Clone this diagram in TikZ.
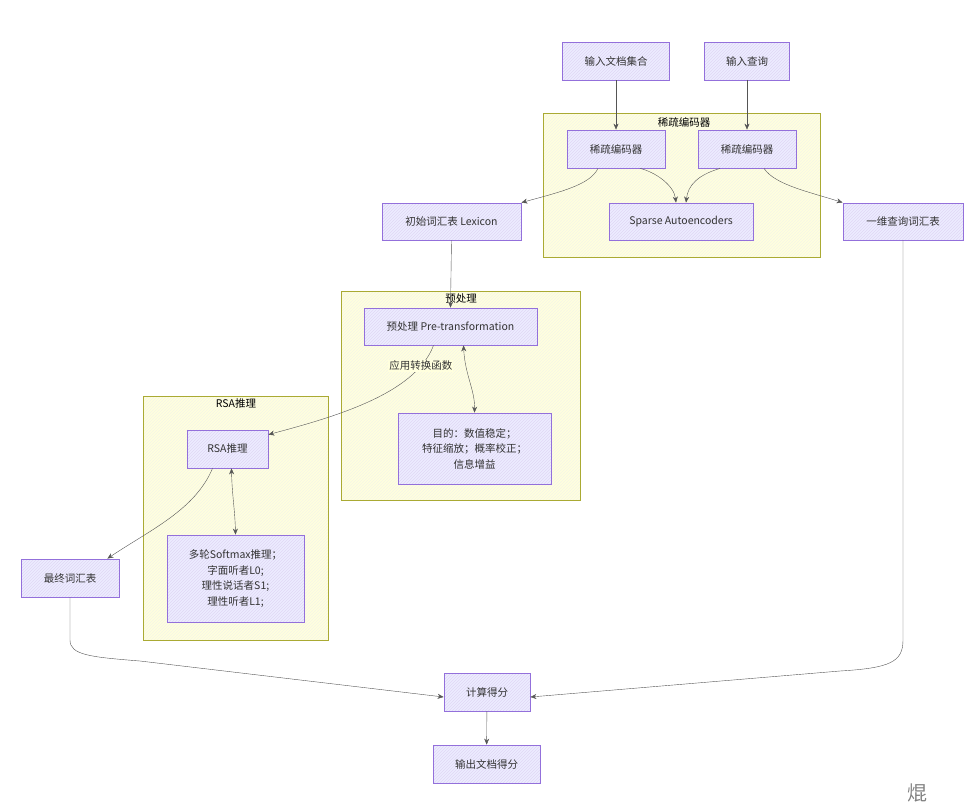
\documentclass[tikz,border=0pt]{standalone}
\usepackage{fontspec}
\setmainfont{Noto Sans CJK SC}
\usetikzlibrary{patterns,arrows.meta}
\definecolor{nodefill}{HTML}{ECECFF}
\definecolor{nodedraw}{HTML}{9370DB}
\definecolor{clusterfill}{HTML}{FFFFDE}
\definecolor{clusterdraw}{HTML}{AAAA33}
\definecolor{linkgray}{HTML}{555555}
\definecolor{textgray}{HTML}{333333}
\begin{document}
\begin{tikzpicture}[x=1pt, y=-1pt, font=\fontsize{10.5}{15.5}\selectfont, text=textgray,
boxnode/.style={rectangle, draw=nodedraw, thick, minimum height=38pt, inner sep=0pt, align=center, preaction={fill=nodefill}, pattern=north east lines, pattern color=nodedraw!28},
clusterbox/.style={rectangle, draw=clusterdraw, thick, inner sep=0pt, preaction={fill=clusterfill}, pattern=north east lines, pattern color=clusterdraw!12},
clustertitle/.style={inner sep=1pt, text=black},
edgelabel/.style={fill=clusterfill, inner sep=1pt},
link/.style={draw=linkgray, thin, -{Stealth[length=6pt, width=5pt]}},
twolink/.style={draw=linkgray, thin, {Stealth[length=6pt, width=5pt]}-{Stealth[length=6pt, width=5pt]}}]

\useasboundingbox (0,0) rectangle (977,809);

% clusters
\node[clusterbox, minimum width=277pt, minimum height=144pt](encgroup) at (681.5, 185){};
\node[clustertitle](encgrouptitle) at (684, 122){稀疏编码器};
\node[clusterbox, minimum width=239pt, minimum height=209pt](pregroup) at (460.5, 395.5){};
\node[clustertitle](pregrouptitle) at (461, 299){预处理};
\node[clusterbox, minimum width=185pt, minimum height=244pt](rsagroup) at (235.5, 518){};
\node[clustertitle](rsagrouptitle) at (236, 404){RSA推理};

% inputs and encoders
\node[boxnode, minimum width=107pt](indocs) at (616, 61){输入文档集合};
\node[boxnode, minimum width=85pt](inquery) at (747, 61){输入查询};
\node[boxnode, minimum width=98pt](encdocs) at (616, 149){稀疏编码器};
\node[boxnode, minimum width=98pt](encquery) at (747, 149){稀疏编码器};
\node[boxnode, minimum width=144pt, minimum height=37pt](sae) at (681, 221.5){Sparse Autoencoders};
\node[boxnode, minimum width=139pt, minimum height=37pt](lexicon) at (451.5, 221.5){初始词汇表 Lexicon};
\node[boxnode, minimum width=120pt, minimum height=37pt](qlex) at (903, 221.5){一维查询词汇表};

\draw[link](indocs) -- (encdocs);
\draw[link](inquery) -- (encquery);
\draw[link]([xshift=24pt]encdocs.south) .. controls (655, 172) and (674, 185) .. ([xshift=-5pt]sae.north);
\draw[link]([xshift=-27pt]encquery.south) .. controls (698, 175) and (688, 185) .. ([xshift=5pt]sae.north);
\draw[link]([xshift=-18pt]encdocs.south) .. controls (590, 185) and (560, 192) .. (lexicon.north east);
\draw[link]([xshift=17pt]encquery.south) .. controls (775, 185) and (810, 192) .. (qlex.north west);

% preprocessing
\node[boxnode, minimum width=173pt, minimum height=37pt](pre) at (450.5, 326.5){预处理 Pre-transformation};
\node[boxnode, minimum width=153pt, minimum height=71pt](purpose) at (474.5, 448.5){目的：数值稳定；\\特征缩放；概率校正；\\信息增益};

\draw[link](lexicon.south) -- (pre.north);
\draw[twolink]([xshift=13pt]pre.south) .. controls (465, 375) and (475, 390) .. (purpose.north);

% RSA
\node[boxnode, minimum width=81pt](rsa) at (227.5, 449){RSA推理};
\node[boxnode, minimum width=137pt, minimum height=87pt](multi) at (235.5, 578.5){多轮Softmax推理；\\字面听者L0;\\理性说话者S1;\\理性听者L1;};

\draw[link]([xshift=-17pt]pre.south) .. controls (415, 395) and (330, 418) .. node[edgelabel, pos=0.15]{应用转换函数} ([yshift=-5pt]rsa.north east);
\draw[twolink]([xshift=4pt]rsa.south) .. controls (232, 495) and (235, 510) .. (multi.north);

% scoring
\node[boxnode, minimum width=98pt](final) at (70, 578){最终词汇表};
\node[boxnode, minimum width=86pt](score) at (487, 692){计算得分};
\node[boxnode, minimum width=107pt](output) at (486.5, 764){输出文档得分};

\draw[link]([xshift=-15pt]rsa.south) .. controls (195, 510) and (150, 530) .. ([xshift=-12pt]final.north east);
\draw[link](final.south) -- (70, 640) .. controls (70, 655) and (90, 657) .. (140, 661) -- ([yshift=-5pt]score.west);
\draw[link](qlex.south) -- (903, 640) .. controls (903, 662) and (890, 668) .. (840, 671) -- ([yshift=-5pt]score.east);
\draw[link](score) -- (output);

\node[text=gray, font=\fontsize{20}{22}\selectfont](mark) at (917, 793){焜};

\end{tikzpicture}
\end{document}
